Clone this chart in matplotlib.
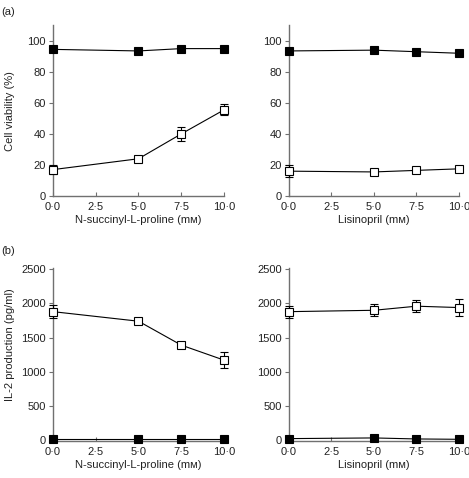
import matplotlib
matplotlib.use("Agg")
import matplotlib.pyplot as plt

conc = [0.0, 5.0, 7.5, 10.0]
xticks = [0.0, 2.5, 5.0, 7.5, 10.0]
xticklabels = ["0·0", "2·5", "5·0", "7·5", "10·0"]

# (a) cell viability (%)
via_nsp_filled = [94.5, 93.5, 95.0, 95.0]
via_nsp_filled_err = [0, 0, 0, 0]
via_nsp_open = [17.0, 24.0, 40.0, 55.5]
via_nsp_open_err = [3.0, 1.0, 4.5, 3.5]
via_lis_filled = [93.5, 94.0, 93.0, 92.0]
via_lis_filled_err = [0, 0, 0, 0]
via_lis_open = [16.0, 15.5, 16.5, 17.5]
via_lis_open_err = [4.0, 1.0, 1.5, 1.5]

# (b) IL-2 production (pg/ml)
il2_nsp_open = [1880, 1740, 1390, 1170]
il2_nsp_open_err = [100, 20, 30, 120]
il2_nsp_filled = [10, 10, 10, 10]
il2_lis_open = [1880, 1900, 1960, 1940]
il2_lis_open_err = [90, 90, 90, 120]
il2_lis_filled = [20, 30, 15, 10]

xlabel_nsp = "N-succinyl-L-proline (mᴍ)"
xlabel_lis = "Lisinopril (mᴍ)"

plt.rcParams['font.family'] = ['Liberation Sans', 'DejaVu Sans']
fig = plt.figure(figsize=(4.69, 4.78), dpi=100)
spine_c = "#707070"
txt_c = "#222222"
FS = 8.0

def style(ax, ylim, yticks, xlabel, ylabel=None, ylabel_y=0.5):
    ax.set_xlim(0, 10)
    ax.set_ylim(*ylim)
    for s in ["top", "right"]:
        ax.spines[s].set_visible(False)
    for s in ["left", "bottom"]:
        ax.spines[s].set_color(spine_c)
        ax.spines[s].set_linewidth(1.0)
    ax.set_xticks(xticks)
    ax.set_xticklabels(xticklabels)
    ax.set_yticks(yticks)
    ax.tick_params(axis="x", direction="in", length=3, width=0.8, color=spine_c,
                   labelsize=FS, labelcolor=txt_c, pad=4)
    ax.tick_params(axis="y", direction="out", length=3, width=0.8, color=spine_c,
                   labelsize=FS, labelcolor=txt_c, pad=2)
    ax.set_xlabel(xlabel, fontsize=FS, color=txt_c, labelpad=2.5)
    if ylabel:
        ax.set_ylabel(ylabel, fontsize=FS, color=txt_c)
        ax.yaxis.set_label_coords(-0.225, ylabel_y)

def series(ax, y, err, filled):
    ax.errorbar(conc, y, yerr=err, color="black", lw=0.8, elinewidth=0.8,
                capsize=3, capthick=0.8, marker="s", ms=6.3,
                mfc="black" if filled else "white", mec="black", mew=0.8,
                clip_on=False, zorder=3)

ax1 = fig.add_axes([0.113, 0.590, 0.3646, 0.357])
ax2 = fig.add_axes([0.616, 0.590, 0.3625, 0.357])
ax3 = fig.add_axes([0.113, 0.0774, 0.3646, 0.362])
ax4 = fig.add_axes([0.616, 0.0774, 0.3625, 0.362])

series(ax1, via_nsp_filled, via_nsp_filled_err, True)
series(ax1, via_nsp_open, via_nsp_open_err, False)
style(ax1, (0, 110), [0, 20, 40, 60, 80, 100], xlabel_nsp, "Cell viability (%)", 0.5)

series(ax2, via_lis_filled, via_lis_filled_err, True)
series(ax2, via_lis_open, via_lis_open_err, False)
style(ax2, (0, 110), [0, 20, 40, 60, 80, 100], xlabel_lis)

series(ax3, il2_nsp_open, il2_nsp_open_err, False)
series(ax3, il2_nsp_filled, [0, 0, 0, 0], True)
style(ax3, (-15, 2520), [0, 500, 1000, 1500, 2000, 2500], xlabel_nsp,
      "IL-2 production (pg/ml)", 0.555)

series(ax4, il2_lis_open, il2_lis_open_err, False)
series(ax4, il2_lis_filled, [0, 0, 0, 0], True)
style(ax4, (-15, 2520), [0, 500, 1000, 1500, 2000, 2500], xlabel_lis)

fig.text(0.002, 0.975, "(a)", fontsize=FS, color=txt_c, va="center", ha="left")
fig.text(0.002, 0.474, "(b)", fontsize=FS, color=txt_c, va="center", ha="left")

fig.savefig("out.png", dpi=100)
